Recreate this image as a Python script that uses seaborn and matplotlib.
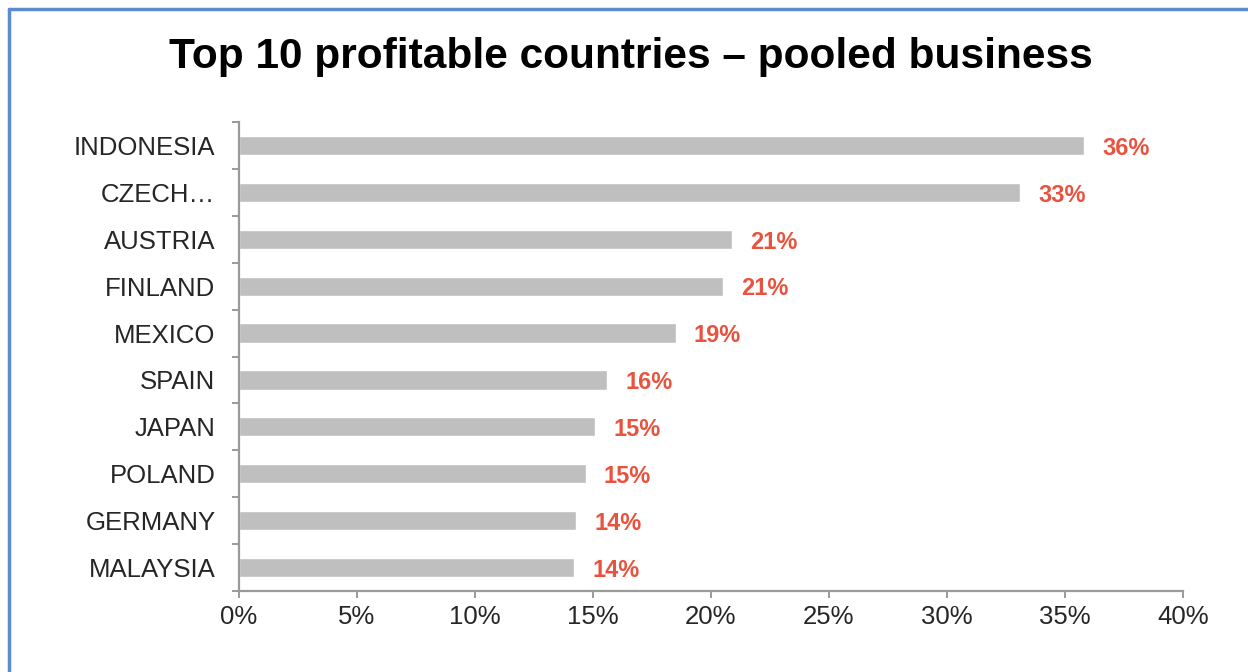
import matplotlib
matplotlib.use("Agg")
import matplotlib.pyplot as plt
from matplotlib.lines import Line2D
from matplotlib.ticker import FuncFormatter, FixedLocator
import seaborn as sns
import pandas as pd

countries = ["INDONESIA", "CZECH\u2026", "AUSTRIA", "FINLAND", "MEXICO",
             "SPAIN", "JAPAN", "POLAND", "GERMANY", "MALAYSIA"]
values = [0.358, 0.331, 0.209, 0.205, 0.185, 0.156, 0.151, 0.147, 0.143, 0.142]
value_labels = ["36%", "33%", "21%", "21%", "19%", "16%", "15%", "15%", "14%", "14%"]
x_ticks = [0, 0.05, 0.10, 0.15, 0.20, 0.25, 0.30, 0.35, 0.40]
title = "Top 10 profitable countries \u2013 pooled business"

sns.set_theme(style="white")
plt.rcParams["font.family"] = ["Liberation Sans", "DejaVu Sans"]

df = pd.DataFrame({"country": countries, "value": values})

W, H = 1248, 672
fig = plt.figure(figsize=(W / 100, H / 100), dpi=100)
fig.patch.set_facecolor("white")
ax = fig.add_axes([239 / W, (H - 591) / H, (1183 - 239) / W, (591 - 122) / H])

sns.barplot(data=df, x="value", y="country", orient="h", color="#BFBFBF",
            width=0.41, saturation=1, ax=ax)

ax.set_xlim(0, 0.40)
ax.set_ylim(9.5, -0.5)
ax.set_xlabel("")
ax.set_ylabel("")
ax.xaxis.set_major_locator(FixedLocator(x_ticks))
ax.xaxis.set_major_formatter(FuncFormatter(lambda v, p: f"{round(v * 100):d}%"))

axis_col = "#9A9A9A"
for s in ["top", "right"]:
    ax.spines[s].set_visible(False)
for s in ["left", "bottom"]:
    ax.spines[s].set_color(axis_col)
    ax.spines[s].set_linewidth(1.6)

ax.tick_params(axis="x", which="major", bottom=True, length=5, width=1.4,
               color=axis_col, pad=5, labelsize=18.5, labelcolor="#262626")
ax.tick_params(axis="y", which="major", left=False, length=0, pad=17,
               labelsize=18.5, labelcolor="#262626")
ax.yaxis.set_minor_locator(FixedLocator([i - 0.5 for i in range(len(countries) + 1)]))
ax.tick_params(axis="y", which="minor", left=True, length=5, width=1.4, color=axis_col)

for i, (v, lab) in enumerate(zip(values, value_labels)):
    ax.annotate(lab, xy=(v, i), xytext=(13, -2), textcoords="offset points",
                ha="left", va="center", fontsize=17, fontweight="bold",
                color="#E8533F")

fig.text(631 / W, 1 - 57 / H, title, ha="center", va="center",
         fontsize=30.5, fontweight="bold", color="#000000")

# blue frame (left and top edges)
fig.add_artist(Line2D([9 / W, 9 / W], [0, 1 - 9 / H], transform=fig.transFigure,
                      color="#5B8BD0", linewidth=2.5))
fig.add_artist(Line2D([9 / W, 1], [1 - 9 / H, 1 - 9 / H], transform=fig.transFigure,
                      color="#5B8BD0", linewidth=2.5))

fig.savefig("out.png", dpi=100, facecolor="white")
